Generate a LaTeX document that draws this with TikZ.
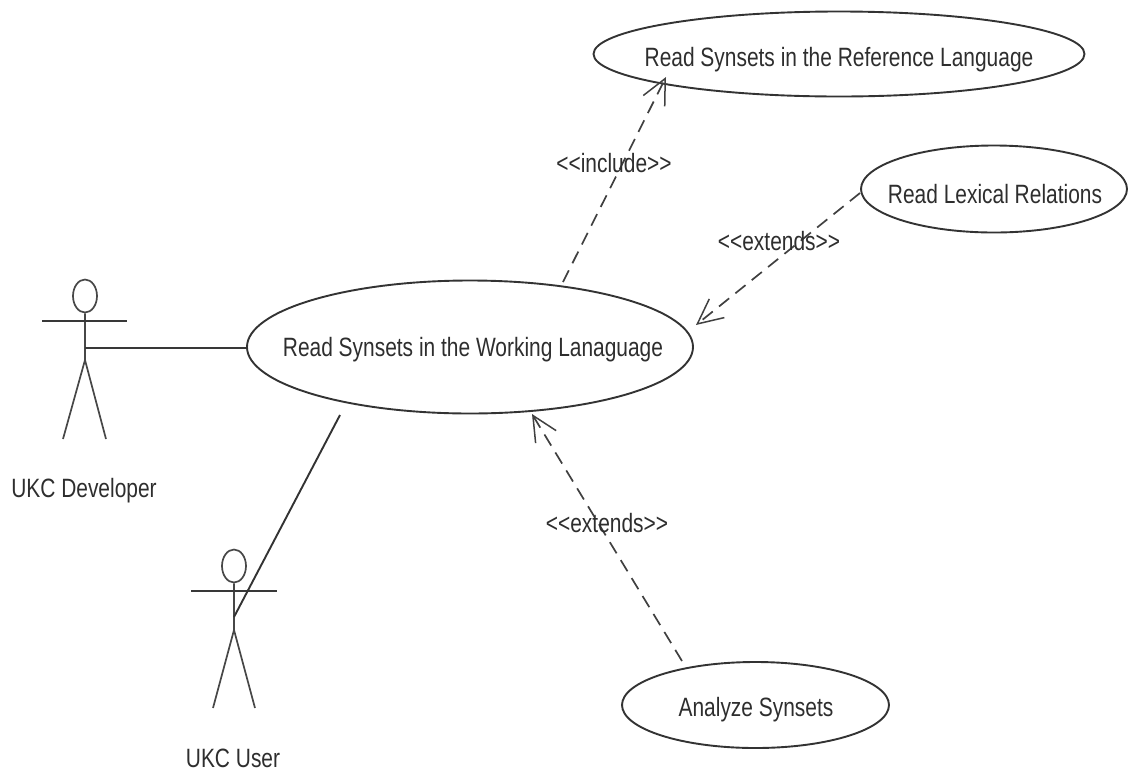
\documentclass[tikz,border=0pt]{standalone}
\usepackage{fontspec}
\setmainfont{Liberation Sans}
\usetikzlibrary{arrows.meta,shapes.geometric}
\tikzset{
  uc/.style={draw=black!80,ellipse,line width=1.9pt,inner sep=0pt},
  lbl/.style={font=\fontsize{26.5}{28}\selectfont,inner sep=0pt,text=black!82,xscale=0.79},
  dep/.style={draw=black!75,dash pattern=on 13pt off 8pt,line width=1.7pt,-{Straight Barb[length=25pt,width=24pt,line width=1.5pt]}},
  act/.style={line width=1.7pt,draw=black!72},
  arm/.style={line width=2.3pt,draw=black!78},
  head/.style={draw=black!72,ellipse,line width=1.7pt,minimum width=24pt,minimum height=33pt,inner sep=0pt},
  assoc/.style={line width=1.9pt,draw=black!80}
}
\begin{document}
\begin{tikzpicture}[x=1pt,y=-1pt]
\useasboundingbox (0,0) rectangle (1128,772);
% use cases
\node[uc,minimum width=491pt,minimum height=85pt] (ref) at (839,54) {};
\node[lbl] (reft) at (839,60) {Read Synsets in the Reference Language};
\node[uc,minimum width=266pt,minimum height=87pt] (lex) at (994,189) {};
\node[lbl] (lext) at (995,194) {Read Lexical Relations};
\node[uc,minimum width=446pt,minimum height=133pt] (work) at (470,347) {};
\node[lbl] (workt) at (473,350) {Read Synsets in the Working Lanaguage};
\node[uc,minimum width=267pt,minimum height=86pt] (ana) at (755.5,705) {};
\node[lbl] (anat) at (756,710) {Analyze Synsets};
% actor 1
\node[head] (h1) at (85,296) {};
\coordinate (a1hip) at (85,360);
\coordinate (a1armL) at (42,321);
\coordinate (a1armR) at (127,321);
\coordinate (a1legL) at (63,439);
\coordinate (a1legR) at (106,439);
\draw[act] (h1.south) -- (a1hip) (a1hip) -- (a1legL) (a1hip) -- (a1legR);
\draw[arm] (a1armL) -- (a1armR);
\node[lbl] (l1) at (84,491) {UKC Developer};
% actor 2
\node[head] (h2) at (234,566) {};
\coordinate (a2hip) at (234,630);
\coordinate (a2armL) at (191,591);
\coordinate (a2armR) at (277,591);
\coordinate (a2legL) at (213,708);
\coordinate (a2legR) at (255,708);
\draw[act] (h2.south) -- (a2hip) (a2hip) -- (a2legL) (a2hip) -- (a2legR);
\draw[arm] (a2armL) -- (a2armR);
\node[lbl] (l2) at (233,758) {UKC User};
% associations
\coordinate (a1s) at (85,348);
\draw[arm] (a1s) -- (work.west |- a1s);
\coordinate (u2s) at (234,617);
\coordinate (u2e) at (340,415);
\draw[assoc] (u2s) -- (u2e);
% dependencies
\coordinate (d1s) at (563,282);
\coordinate (d1e) at (666,77);
\draw[dep] (d1s) -- (d1e);
\coordinate (d2s) at (860,193);
\coordinate (d2e) at (696,325);
\draw[dep] (d2s) -- (d2e);
\coordinate (d3s) at (682,661);
\coordinate (d3e) at (532,414);
\draw[dep] (d3s) -- (d3e);
\node[lbl] (t1) at (614,163) {<{}<include>{}>};
\node[lbl] (t2) at (779,241) {<{}<extends>{}>};
\node[lbl] (t3) at (607,523) {<{}<extends>{}>};
\end{tikzpicture}
\end{document}
